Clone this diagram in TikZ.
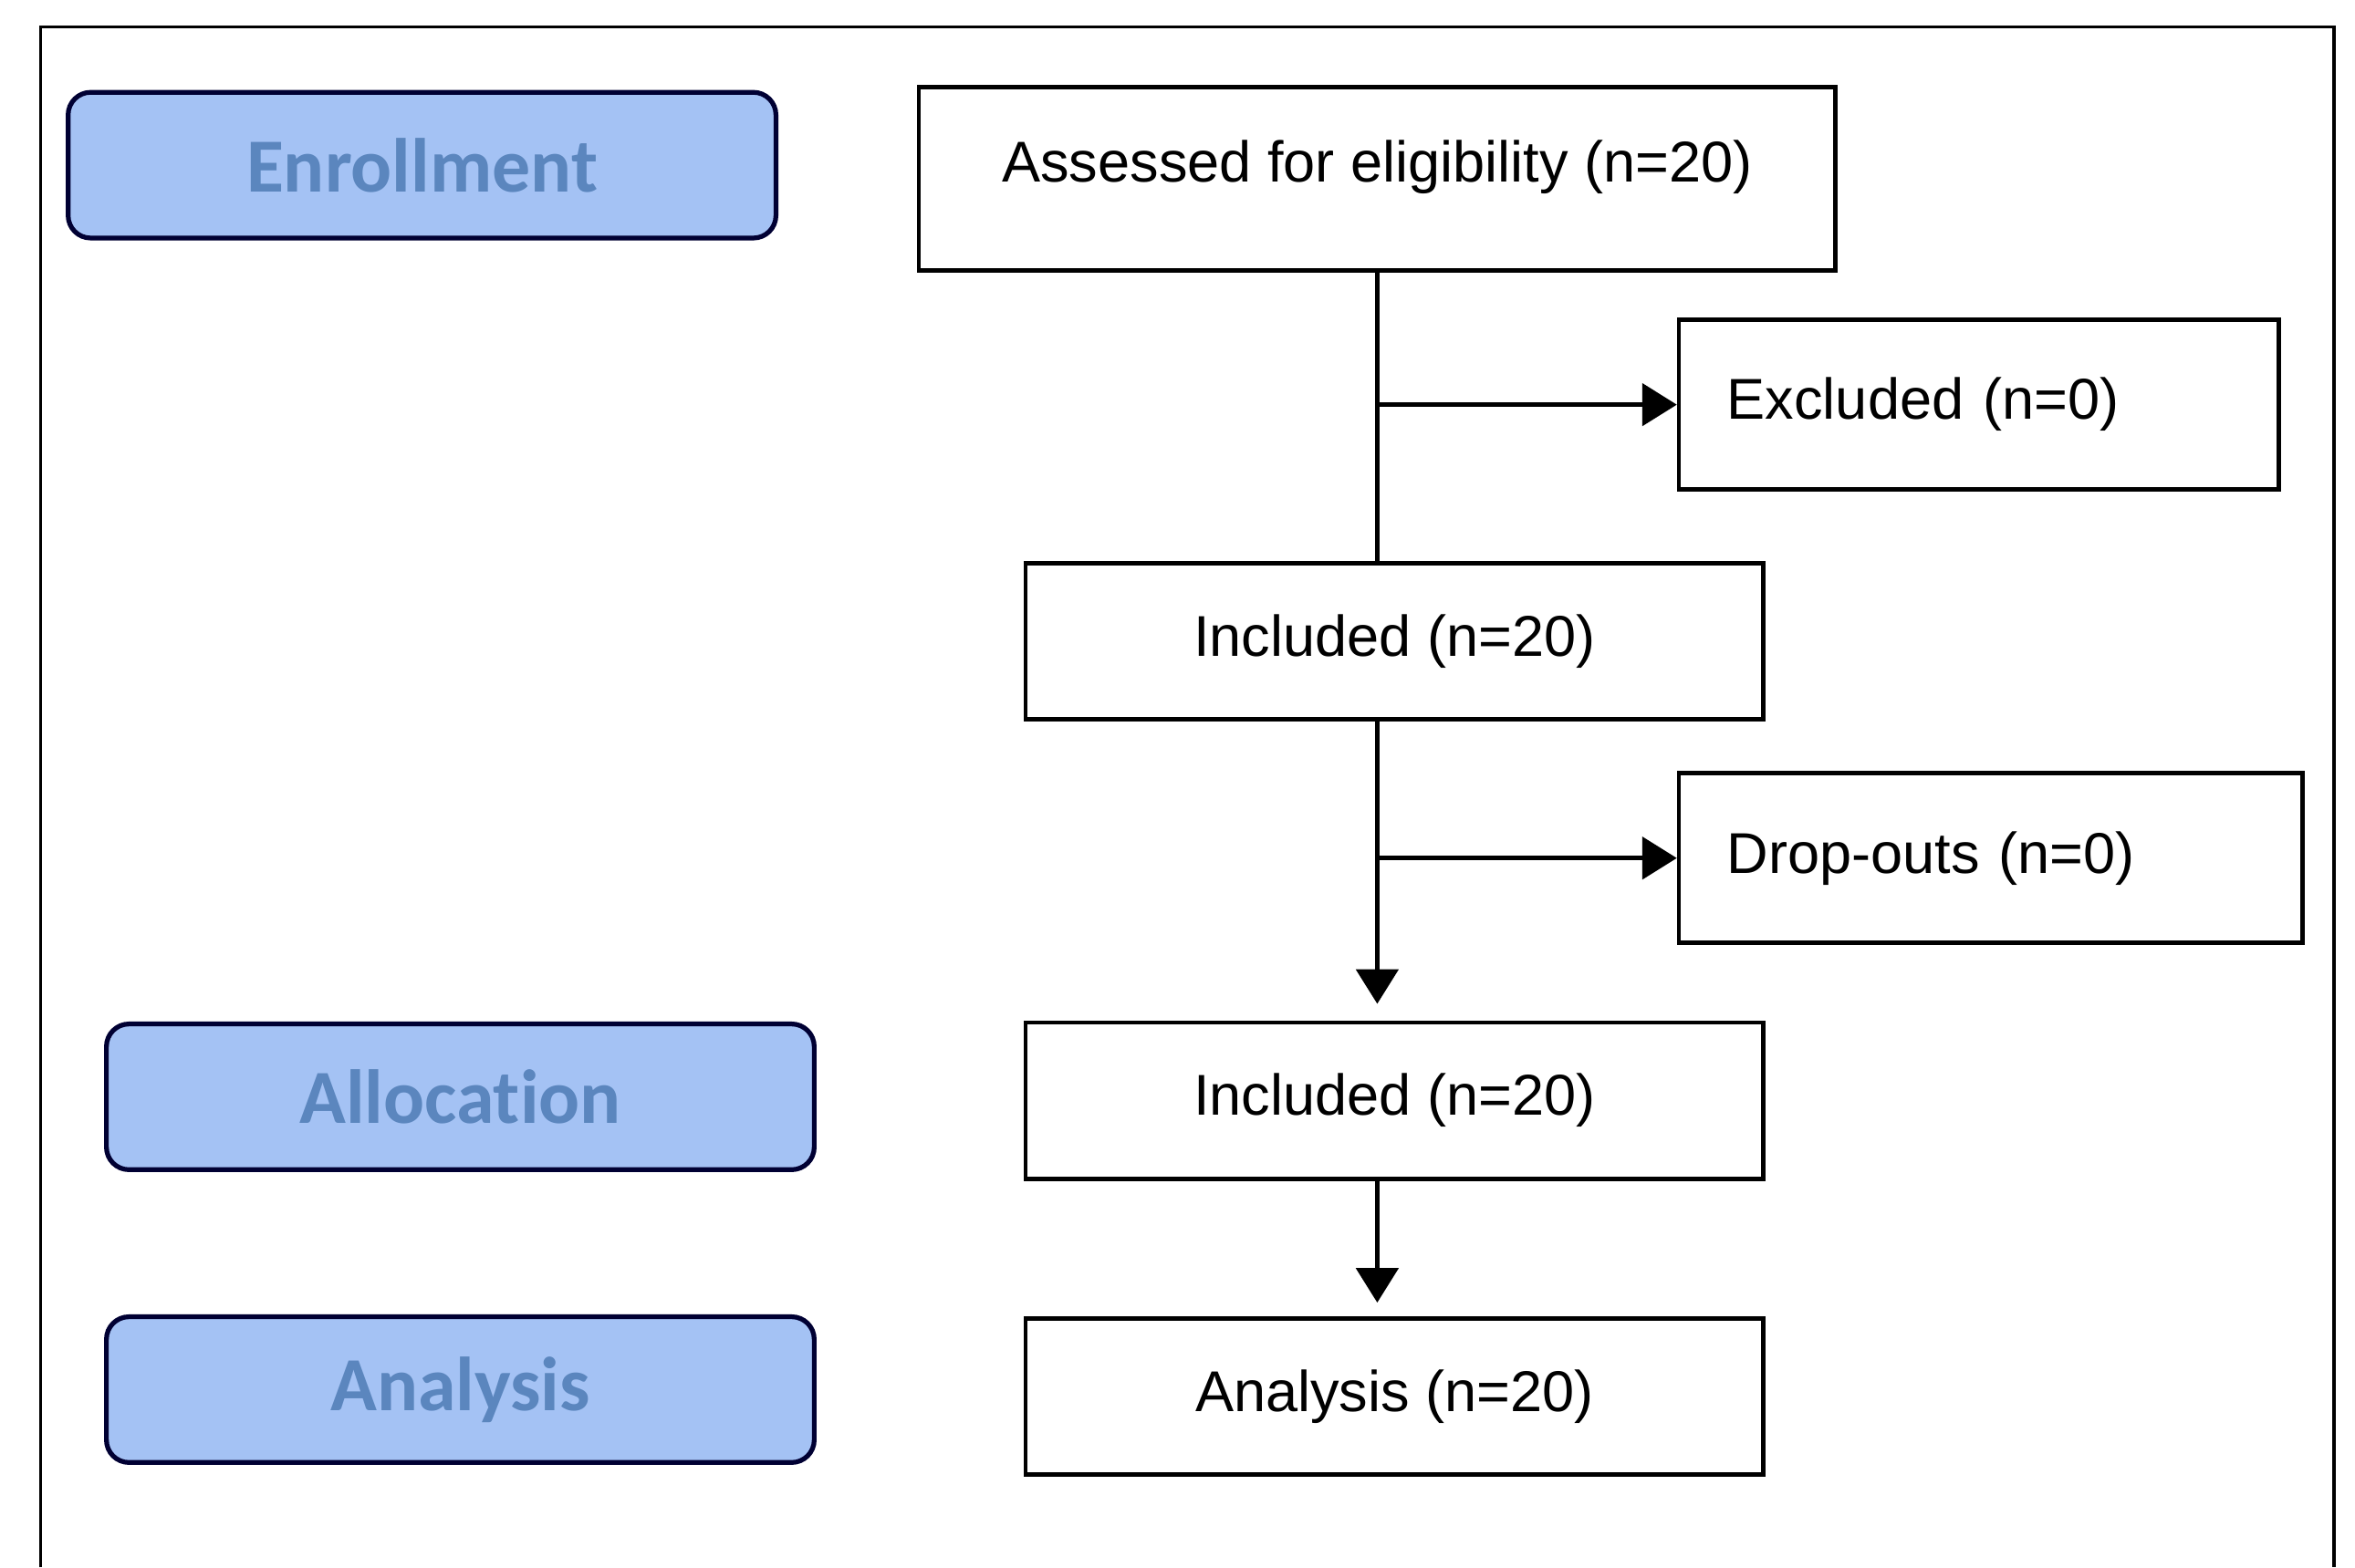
\documentclass[tikz,border=0pt]{standalone}
\usepackage{fontspec}
\setmainfont{Liberation Sans}
\newfontfamily\stagefont[Ligatures=NoCommon]{Carlito}
\usetikzlibrary{arrows.meta}
\definecolor{stagefill}{HTML}{A4C2F4}
\definecolor{stagetext}{HTML}{5B86BE}
\begin{document}
\begin{tikzpicture}[x=0.01cm, y=-0.01cm,
  stage/.style={draw=black!80!blue, line width=0.9pt, rounded corners=0.15cm, fill=stagefill, text=stagetext, font=\stagefont\bfseries\fontsize{14.5}{17}\selectfont, minimum width=4.71cm, minimum height=0.97cm, inner sep=0pt},
  box/.style={draw, line width=0.8pt, font=\fontsize{10.9}{13}\selectfont, minimum width=4.91cm, minimum height=1.04cm, inner sep=0pt},
  sidebox/.style={box, minimum width=0pt, minimum height=1.13cm, align=left, inner xsep=3.2mm},
  link/.style={line width=0.8pt},
  arr/.style={link, -{Triangle[length=2.3mm,width=2.8mm]}}]
\useasboundingbox (0,0) rectangle (1568,1044);
\draw[line width=0.6pt] (27,1044) -- (27,18) -- (1554,18) -- (1554,1044);
\node[stage] (enroll) at (281,110){Enrollment};
\node[stage] (alloc) at (306.5,730.5){Allocation};
\node[stage] (anastage) at (306.5,925.5){Analysis};
\node[box, minimum width=6.1cm, minimum height=1.22cm, text depth=0.23cm] (assessed) at (917,119){Assessed for eligibility (n=20)};
\node[sidebox, text width=3.35cm] (excluded) at (1317.5,269.5){Excluded (n=0)};
\node[box] (incl1) at (928.5,427){Included (n=20)};
\node[sidebox, text width=3.51cm] (dropouts) at (1325.5,571.5){Drop-outs (n=0)};
\node[box] (incl2) at (928.5,733){Included (n=20)};
\node[box] (analysis) at (928.5,930){Analysis (n=20)};
\draw[link](assessed.south) -- (assessed.south |- incl1.north);
\draw[arr](assessed.south |- excluded.west) -- (excluded.west);
\draw[arr, shorten >=1.1mm](assessed.south |- incl1.south) -- (assessed.south |- incl2.north);
\draw[arr](assessed.south |- dropouts.west) -- (dropouts.west);
\draw[arr, shorten >=0.9mm](assessed.south |- incl2.south) -- (assessed.south |- analysis.north);
\end{tikzpicture}
\end{document}
